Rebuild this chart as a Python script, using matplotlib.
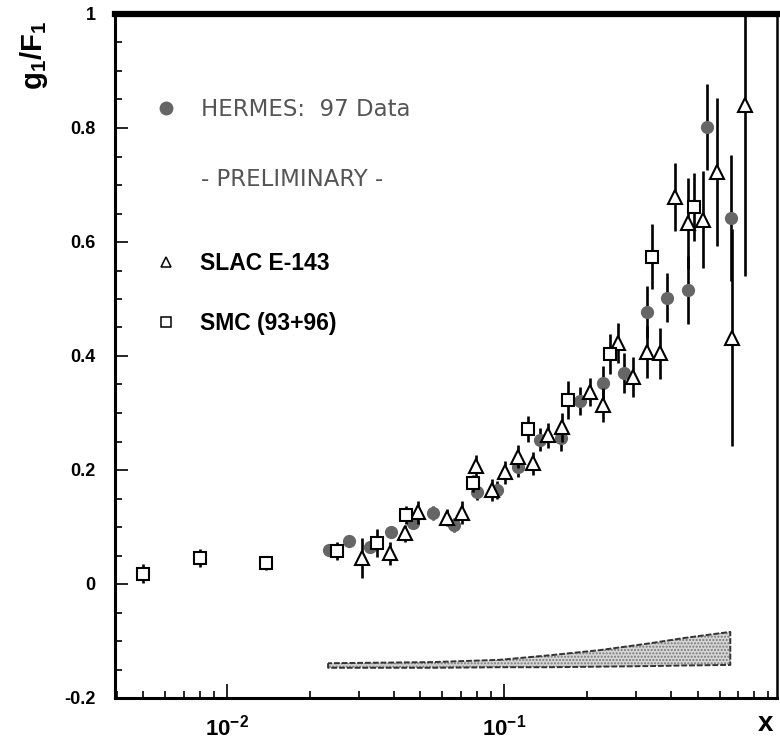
import numpy as np
import matplotlib
matplotlib.use('Agg')
import matplotlib.pyplot as plt
from matplotlib.ticker import LogLocator, MultipleLocator, FuncFormatter, NullFormatter
from matplotlib.lines import Line2D

plt.rcParams['font.family'] = ['Liberation Sans', 'DejaVu Sans']
plt.rcParams['mathtext.fontset'] = 'custom'
plt.rcParams['mathtext.rm'] = 'Liberation Sans'
plt.rcParams['mathtext.bf'] = 'Liberation Sans:bold'
plt.rcParams['mathtext.it'] = 'Liberation Sans:italic'

# ---------------- data ----------------
hermes_x = [0.0233, 0.0276, 0.0328, 0.0391, 0.0469, 0.0554, 0.0659, 0.080, 0.0944,
            0.1124, 0.135, 0.161, 0.188, 0.227, 0.271, 0.328, 0.387, 0.461, 0.54, 0.66]
hermes_y = [0.060, 0.075, 0.065, 0.091, 0.107, 0.125, 0.104, 0.161, 0.165,
            0.205, 0.253, 0.256, 0.321, 0.353, 0.370, 0.477, 0.502, 0.516, 0.802, 0.642]
hermes_err = [0.008, 0.008, 0.010, 0.010, 0.010, 0.012, 0.012, 0.014, 0.015,
              0.018, 0.020, 0.022, 0.025, 0.030, 0.035, 0.045, 0.043, 0.06, 0.075, 0.11]

slac_x = [0.0307, 0.0388, 0.044, 0.049, 0.0622, 0.0705, 0.0792, 0.0905, 0.1008, 0.112,
          0.127, 0.144, 0.162, 0.204, 0.227, 0.258, 0.292, 0.328, 0.365, 0.414,
          0.461, 0.523, 0.588, 0.666, 0.741]
slac_y = [0.046, 0.054, 0.089, 0.126, 0.116, 0.125, 0.207, 0.165, 0.196, 0.223,
          0.212, 0.261, 0.275, 0.337, 0.314, 0.423, 0.363, 0.407, 0.405, 0.679,
          0.633, 0.639, 0.723, 0.432, 0.840]
slac_err = [0.035, 0.02, 0.015, 0.02, 0.015, 0.02, 0.02, 0.02, 0.02, 0.02,
            0.02, 0.022, 0.025, 0.025, 0.03, 0.035, 0.035, 0.045, 0.045, 0.06,
            0.08, 0.085, 0.13, 0.19, 0.30]

smc_x = [0.00497, 0.0080, 0.0139, 0.0249, 0.0348, 0.0443, 0.0773, 0.122, 0.170,
         0.242, 0.342, 0.485]
smc_y = [0.018, 0.046, 0.037, 0.058, 0.072, 0.121, 0.177, 0.272, 0.323,
         0.404, 0.574, 0.661]
smc_err = [0.017, 0.016, 0.012, 0.016, 0.025, 0.015, 0.015, 0.023, 0.033,
           0.035, 0.057, 0.06]

# systematic error band (HERMES)
band_x = [0.0232, 0.0554, 0.0967, 0.1466, 0.222, 0.337, 0.443, 0.656]
band_hi = [-0.139, -0.137, -0.133, -0.125, -0.116, -0.104, -0.095, -0.084]
band_lo = [-0.147, -0.147, -0.146, -0.146, -0.145, -0.144, -0.143, -0.142]

y_ticks = [-0.2, 0, 0.2, 0.4, 0.6, 0.8, 1.0]

legend_hermes = ["HERMES:  97 Data", "- PRELIMINARY -"]
legend_other = ["SLAC E-143", "SMC (93+96)"]

# ---------------- figure ----------------
W, H = 780, 743
fig = plt.figure(figsize=(W / 100, H / 100), dpi=100)
L, R, T, B = 115, 777, 14, 698
ax = fig.add_axes([L / W, 1 - B / H, (R - L) / W, (B - T) / H])
ax.set_xscale('log')
ax.set_xlim(0.00395, 0.967)
ax.set_ylim(-0.2, 1.0)

# band
ax.fill_between(band_x, band_lo, band_hi, facecolor='#d6d6d6', edgecolor='#777777',
                hatch='.....', linewidth=0, zorder=1)
ax.fill_between(band_x, band_lo, band_hi, facecolor='none', edgecolor='#333333',
                linewidth=1.4, linestyle=(0, (3, 1)), zorder=1.5)

ekw = dict(ecolor='black', elinewidth=1.9, capsize=0, linestyle='none')
h_h = ax.errorbar(hermes_x, hermes_y, yerr=hermes_err, fmt='o', ms=8.5,
                  mfc='#666666', mec='#666666', zorder=3, **ekw)
h_s = ax.errorbar(slac_x, slac_y, yerr=slac_err, fmt='^', ms=10,
                  mfc='white', mec='black', mew=1.5, zorder=4, **ekw)
h_m = ax.errorbar(smc_x, smc_y, yerr=smc_err, fmt='s', ms=9,
                  mfc='white', mec='black', mew=1.5, zorder=4, **ekw)

# axes styling
for side, lw in (('left', 2.2), ('bottom', 2.2), ('top', 4.5), ('right', 1.8)):
    ax.spines[side].set_linewidth(lw)
    ax.spines[side].set_color('black')

ax.yaxis.set_major_locator(MultipleLocator(0.2))
ax.yaxis.set_minor_locator(MultipleLocator(0.05))
ax.set_yticks(y_ticks)
ax.yaxis.set_major_formatter(FuncFormatter(lambda v, p: '%g' % round(v, 3)))
ax.xaxis.set_major_locator(LogLocator(base=10, numticks=10))
ax.xaxis.set_minor_locator(LogLocator(base=10, subs=np.arange(2, 10), numticks=20))
ax.xaxis.set_major_formatter(FuncFormatter(
    lambda v, p: r'$\mathbf{10^{%d}}$' % int(round(np.log10(v)))))
ax.xaxis.set_minor_formatter(NullFormatter())

ax.tick_params(axis='both', which='both', direction='in', top=False, right=False,
               width=1.2, colors='black')
ax.tick_params(axis='y', which='major', length=9, pad=14, labelsize=13)
ax.tick_params(axis='y', which='minor', length=5)
ax.tick_params(axis='x', which='major', length=10, pad=12, labelsize=16)
ax.tick_params(axis='x', which='minor', length=5)
for lab in ax.get_yticklabels():
    lab.set_fontweight('bold')

# axis labels
fig.text(34 / W, 1 - 55 / H, r'$\mathbf{g_1/F_1}$', rotation=90, ha='center',
         va='center', fontsize=21)
fig.text(765 / W, 1 - 724 / H, 'x', ha='center', va='center', fontsize=20,
         fontweight='bold')

# legends
empty = Line2D([], [], linestyle='none', marker='')
leg1 = ax.legend([h_h[0], empty], legend_hermes, loc='upper left',
                 bbox_to_anchor=(0.060, 0.8775), frameon=False,
                 prop={'family': 'DejaVu Sans', 'size': 16.5},
                 handlelength=1.0, handletextpad=1.0, labelspacing=2.05,
                 borderpad=0, borderaxespad=0, numpoints=1)
for t in leg1.get_texts():
    t.set_color('#555555')
ax.add_artist(leg1)
leg2 = ax.legend([h_s[0], h_m[0]], legend_other, loc='upper left',
                 bbox_to_anchor=(0.060, 0.652), frameon=False,
                 handlelength=1.0, handletextpad=0.97, labelspacing=1.6,
                 borderpad=0, borderaxespad=0, numpoints=1,
                 prop={'weight': 'bold', 'size': 16.5})
for h in leg2.legend_handles:
    h.set_markersize(7)
    h.set_markeredgewidth(1.1)
leg1.legend_handles[0].set_markersize(9)

fig.savefig('out.png', dpi=100)
